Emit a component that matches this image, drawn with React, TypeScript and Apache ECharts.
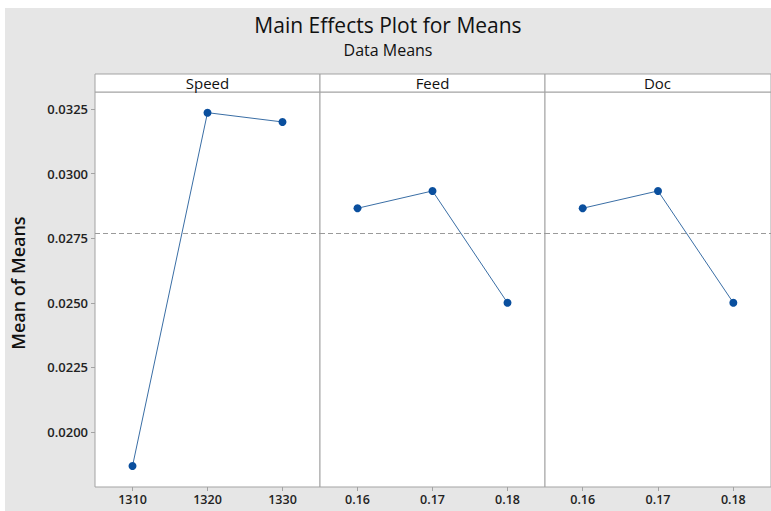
import React, { useEffect, useRef } from "react";
import * as echarts from "echarts";

const panelNames = ["Speed", "Feed", "Doc"];
const speedLevels = ["1310", "1320", "1330"];
const feedLevels = ["0.16", "0.17", "0.18"];
const docLevels = ["0.16", "0.17", "0.18"];
const speedMeans = [0.01868, 0.03236, 0.032];
const feedMeans = [0.02866, 0.02933, 0.025];
const docMeans = [0.02866, 0.02933, 0.025];
const grandMean = 0.02768;
const yTicks = [0.02, 0.0225, 0.025, 0.0275, 0.03, 0.0325];
const yMin = 0.01787;
const yMax = 0.03316;

const FONT = "'Open Sans', 'Noto Sans', sans-serif";

export default function App() {
  const ref = useRef<HTMLDivElement>(null);
  useEffect(() => {
    if (!ref.current) return;
    const chart = echarts.init(ref.current, null, { renderer: "svg" });
    const levels = [speedLevels, feedLevels, docLevels];
    const means = [speedMeans, feedMeans, docMeans];
    const lefts = [90, 315, 540];
    const widths = [225, 225, 226];
    const gridTop = 84;
    const gridH = 395;

    const grids = lefts.map((l, i) => ({
      left: l,
      top: gridTop,
      width: widths[i],
      height: gridH,
      show: true,
      backgroundColor: "#ffffff",
      borderColor: "#a3a3a3",
      borderWidth: 1,
    }));

    const xAxes = levels.map((lv, i) => ({
      type: "category",
      gridIndex: i,
      data: lv,
      boundaryGap: true,
      axisLine: { show: false },
      axisTick: { show: true, alignWithLabel: true, length: 4, lineStyle: { color: "#a3a3a3" } },
      axisLabel: { color: "#222", fontSize: 12.5, fontWeight: 600, fontFamily: FONT, margin: 6 },
      splitLine: { show: false },
    }));

    const yAxes = levels.map((_, i) => ({
      type: "value",
      gridIndex: i,
      min: yMin,
      max: yMax,
      show: i === 0,
      axisLine: { show: false },
      axisTick: { show: true, length: 4, customValues: yTicks, lineStyle: { color: "#a3a3a3" } },
      axisLabel: {
        customValues: yTicks,
        color: "#222",
        fontSize: 13,
        fontWeight: 600,
        fontFamily: FONT,
        margin: 7,
        formatter: (v: number) => v.toFixed(4),
      },
      splitLine: { show: false },
    }));

    const series = means.map((m, i) => ({
      type: "line",
      xAxisIndex: i,
      yAxisIndex: i,
      data: m,
      symbol: "circle",
      symbolSize: 8,
      itemStyle: { color: "#0a4f9e" },
      lineStyle: { color: "#3a6ea5", width: 1 },
      markLine: {
        silent: true,
        precision: 6,
        symbol: ["none", "none"],
        label: { show: false },
        lineStyle: { color: "#9a9a9a", type: [5, 3], width: 1 },
        data: [{ yAxis: grandMean }],
      },
    }));

    const headers: any[] = [];
    lefts.forEach((l, i) => {
      headers.push({
        type: "rect",
        shape: { x: l, y: 66, width: widths[i], height: 18 },
        style: { fill: "#ffffff", stroke: "#a3a3a3", lineWidth: 1 },
        z: 10,
      });
      headers.push({
        type: "text",
        x: l + 225 / 2,
        y: 75,
        style: {
          text: panelNames[i],
          fill: "#111",
          font: `15px ${FONT}`,
          align: "center",
          verticalAlign: "middle",
        },
        z: 11,
      });
    });

    chart.setOption({
      animation: false,
      backgroundColor: "#e6e6e6",
      title: [
        {
          text: "Main Effects Plot for Means",
          left: "center",
          top: 1,
          textStyle: { fontSize: 21, fontWeight: 500, color: "#111", fontFamily: FONT },
        },
        {
          text: "Data Means",
          left: "center",
          top: 29,
          textStyle: { fontSize: 16, fontWeight: 500, color: "#111", fontFamily: FONT },
        },
      ],
      grid: grids,
      xAxis: xAxes,
      yAxis: yAxes,
      series,
      graphic: [
        ...headers,
        {
          type: "text",
          x: 13,
          y: 275,
          rotation: Math.PI / 2,
          style: {
            text: "Mean of Means",
            fill: "#111",
            font: `600 18px ${FONT}`,
            align: "center",
            verticalAlign: "middle",
          },
        },
      ],
    });
    return () => chart.dispose();
  }, []);

  return (
    <div
      ref={ref}
      style={{ position: "fixed", left: 5, top: 8, width: 766, height: 503 }}
    />
  );
}
